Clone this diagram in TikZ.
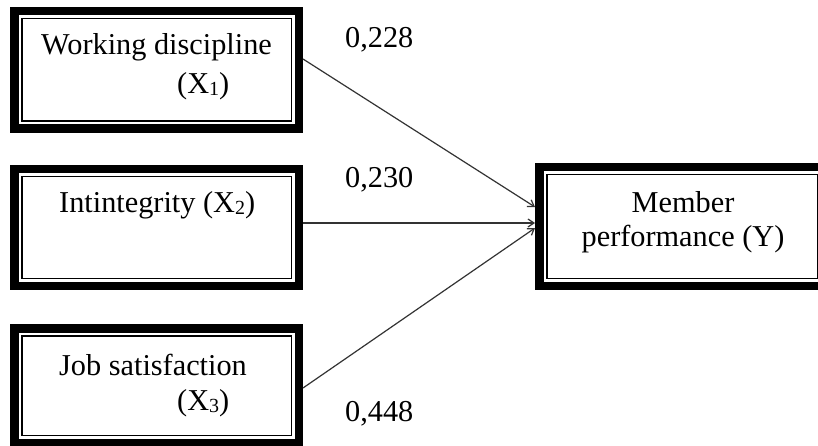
\documentclass[tikz,border=0pt]{standalone}
\usepackage{fontspec}
\setmainfont{Liberation Serif}
\usetikzlibrary{calc,arrows.meta}
\newcommand{\sbs}[1]{\raisebox{-2pt}{\fontsize{20}{20}\selectfont #1}}
\begin{document}
\begin{tikzpicture}[x=1pt,y=-1pt,
  pbox/.style={draw=black, line width=8.5pt, inner sep=0pt, outer sep=4.25pt},
  innerline/.style={draw=black, line width=1.5pt},
  txt/.style={inner sep=0pt, font=\fontsize{30.3}{34}\selectfont},
  link/.style={draw=black!80, line width=1.2pt, -{Straight Barb[length=6pt,width=8pt]}}]
\useasboundingbox (0,0) rectangle (818,446);
\clip (0,0) rectangle (818,446);
\fill[white] (0,0) rectangle (818,446);

% frames (outer thick line)
\node[pbox, minimum width=284.5pt, minimum height=117.5pt] (x1) at (156.5,70) {};
\node[pbox, minimum width=284.5pt, minimum height=116.5pt] (x2) at (156.5,227.5) {};
\node[pbox, minimum width=284.5pt, minimum height=114.5pt] (x3) at (156.5,385.5) {};
\node[pbox, minimum width=285.5pt, minimum height=118.5pt] (y)  at (682,226.5) {};

% thin inner line of each frame
\foreach \n in {x1,x2,x3,y}
  \draw[innerline] ($(\n.north west)+(11.75,11.75)$) rectangle ($(\n.south east)+(-11.75,-11.75)$);

% box texts
\node[txt, anchor=base west] (t1a) at (41,55) {Working discipline};
\node[txt, anchor=base west] (t1b) at (177,94) {(X\sbs{1})};
\node[txt, anchor=base west] (t2)  at (59,212) {Intintegrity (X\sbs{2})};
\node[txt, anchor=base west] (t3a) at (59,375) {Job satisfaction};
\node[txt, anchor=base west] (t3b) at (177,410) {(X\sbs{3})};
\node[txt, anchor=base] (tya) at (683,212) {Member};
\node[txt, anchor=base] (tyb) at (683,247) {performance (Y)};

% paths with coefficients
\draw[link] ($(x1.east)+(0,-11)$) -- ($(y.west)+(0,-19.5)$);
\draw[link] ($(x2.east)+(0,-4.5)$) -- ($(y.west)+(0,-3.5)$);
\draw[link] ($(x3.east)+(0,2.5)$) -- ($(y.west)+(0,1.5)$);

\node[txt, anchor=base west] (c1) at (345,48) {0,228};
\node[txt, anchor=base west] (c2) at (345,188) {0,230};
\node[txt, anchor=base west] (c3) at (345,421) {0,448};
\end{tikzpicture}
\end{document}
